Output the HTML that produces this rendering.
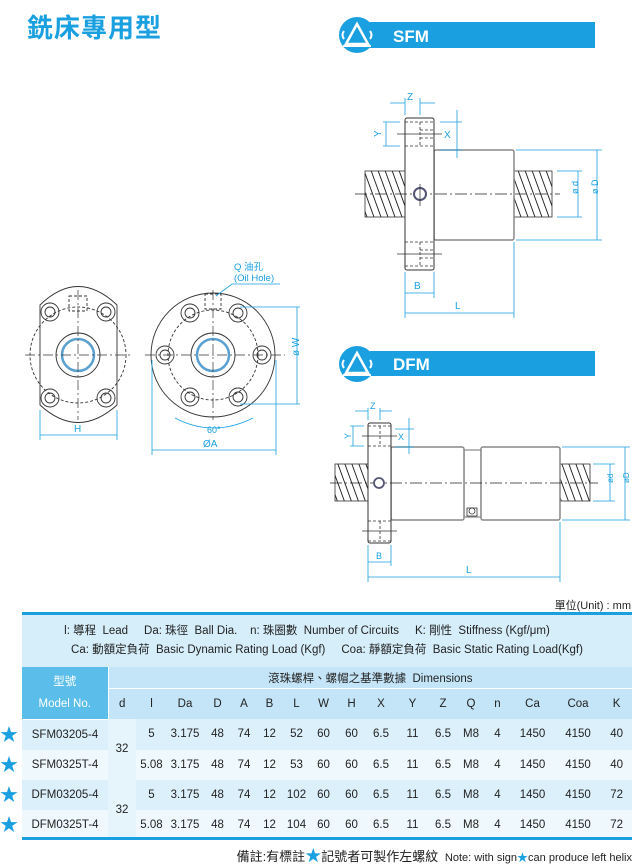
<!DOCTYPE html>
<html><head><meta charset="utf-8"><style>
body{margin:0;width:635px;height:865px;background:#fff;position:relative;overflow:hidden;font-family:"Liberation Sans","Noto Sans CJK TC",sans-serif}
.a{position:absolute}
table{border-collapse:collapse;position:absolute;left:22px;top:667px;width:610px;table-layout:fixed;font-size:11.5px;color:#222}
td{text-align:center;padding:0;height:30px}
</style></head><body>
<div class="a" style="left:27px;top:8px;font-size:26px;font-weight:bold;color:#1aa0e0;font-family:'Noto Sans CJK TC',sans-serif;letter-spacing:1px">銑床專用型</div>
<svg class="a" style="left:0;top:0" width="635" height="600" viewBox="0 0 635 600" font-family="Liberation Sans, Noto Sans CJK TC, sans-serif">
<defs>
<pattern id="th" width="7" height="50" patternUnits="userSpaceOnUse" patternTransform="skewX(20)"><rect width="7" height="50" fill="#fff"/><line x1="1" y1="0" x2="1" y2="50" stroke="#222" stroke-width="1"/></pattern>
<g id="logo"><circle r="18" fill="#1aa0e0"/><path d="M-11 9 L0 -11 L11 9 Z" fill="none" stroke="#fff" stroke-width="2.5"/><path d="M-13 -4 Q-16 0 -13 4 M13 -4 Q16 0 13 4" stroke="#fff" stroke-width="2" fill="none"/><line x1="-14" y1="11" x2="14" y2="11" stroke="#fff" stroke-width="2"/></g>
</defs>
<!-- SFM banner -->
<rect x="370" y="22" width="225" height="26" fill="#1aa0e0"/>
<use href="#logo" x="357" y="35"/>
<text x="393" y="42" fill="#fff" font-size="17" font-weight="bold">SFM</text>
<!-- DFM banner -->
<rect x="370" y="351" width="225" height="25" fill="#1aa0e0"/>
<use href="#logo" x="357" y="364"/>
<text x="393" y="370" fill="#fff" font-size="17" font-weight="bold">DFM</text>

<!-- SFM side view -->
<rect x="365" y="171" width="40" height="46" fill="url(#th)" stroke="#333" stroke-width="0.8"/>
<rect x="514" y="171" width="38" height="46" fill="url(#th)" stroke="#333" stroke-width="0.8"/>
<rect x="434" y="150" width="80" height="90" rx="2" fill="#fff" stroke="#888" stroke-width="1.5"/>
<rect x="405" y="118" width="29" height="152" rx="2" fill="#fff" stroke="#333" stroke-width="1"/>
<g stroke="#333" stroke-width="0.8" stroke-dasharray="3,2" fill="none">
<path d="M405 122 H434 M405 146 H434 M420 122 V146 M420 130 H434 M420 138 H434"/>
<path d="M405 242 H434 M405 266 H434 M420 242 V266 M420 250 H434 M420 258 H434"/>
</g>
<path d="M397 134 H442 M397 254 H442" stroke="#333" stroke-width="0.8"/>
<line x1="355" y1="194" x2="560" y2="194" stroke="#222" stroke-width="0.8" stroke-dasharray="12,3,2,3"/>
<circle cx="420" cy="194" r="6" fill="#fff" stroke="#557" stroke-width="2"/>
<line x1="420" y1="184" x2="420" y2="206" stroke="#222" stroke-width="0.7"/>
<g stroke="#1aa0e0" stroke-width="0.8" fill="#1aa0e0" font-size="10">
<path d="M405 115 V98 M420 115 V98 M390 103 H405 M420 103 H435"/>
<text x="407" y="100" stroke="none">Z</text>
<path d="M383 122 H400 M383 146 H400 M386 122 V146"/>
<text x="375" y="137" stroke="none" transform="rotate(-90 378 134)">Y</text>
<path d="M457 110 V158 M440 122 H462 M440 150 H462"/>
<text x="444" y="138" stroke="none">X</text>
<path d="M516 150 H602 M516 240 H602 M597 150 V240 M557 171 H582 M557 217 H582 M578 171 V217"/>
<text x="572" y="200" stroke="none" transform="rotate(-90 572 194)" font-size="9">ø d</text>
<text x="592" y="200" stroke="none" transform="rotate(-90 592 194)" font-size="9">ø D</text>
<path d="M405 272 V318 M434 272 V298 M514 242 V318 M405 293 H434 M405 313 H514"/>
<text x="414" y="289" stroke="none">B</text>
<text x="455" y="309" stroke="none">L</text>
</g>

<!-- Left end view -->
<g fill="none" stroke="#333" stroke-width="0.9">
<path d="M40 305 Q78 268 117 305 V405 Q78 440 40 405 Z" fill="#fff"/>
<circle cx="78" cy="355" r="48" stroke-dasharray="3,2"/>
<circle cx="78" cy="355" r="22"/>
<circle cx="78" cy="355" r="16" stroke="#5aa0d0" stroke-width="2.5"/>
<circle cx="50" cy="312" r="9"/><circle cx="50" cy="312" r="5"/>
<circle cx="106" cy="312" r="9"/><circle cx="106" cy="312" r="5"/>
<circle cx="50" cy="398" r="9"/><circle cx="50" cy="398" r="5"/>
<circle cx="106" cy="398" r="9"/><circle cx="106" cy="398" r="5"/>
<rect x="69" y="296" width="18" height="15" stroke-dasharray="3,2"/>
</g>
<path d="M25 355 H130 M78 290 V420" stroke="#333" stroke-width="0.7" stroke-dasharray="10,3,2,3"/>
<!-- Right end view -->
<g fill="none" stroke="#333" stroke-width="0.9">
<circle cx="213" cy="355" r="62" fill="#fff"/>
<circle cx="213" cy="355" r="45" stroke-dasharray="3,2"/>
<circle cx="213" cy="355" r="22"/>
<circle cx="213" cy="355" r="16" stroke="#5aa0d0" stroke-width="2.5"/>
<circle cx="165" cy="355" r="9"/><circle cx="165" cy="355" r="5"/>
<circle cx="262" cy="355" r="9"/><circle cx="262" cy="355" r="5"/>
<circle cx="190" cy="313" r="9"/><circle cx="190" cy="313" r="5"/>
<circle cx="238" cy="313" r="9"/><circle cx="238" cy="313" r="5"/>
<circle cx="190" cy="397" r="9"/><circle cx="190" cy="397" r="5"/>
<circle cx="238" cy="397" r="9"/><circle cx="238" cy="397" r="5"/>
<rect x="205" y="294" width="16" height="15" stroke-dasharray="3,2"/>
</g>
<path d="M145 355 H285 M213 290 V420" stroke="#333" stroke-width="0.7" stroke-dasharray="10,3,2,3"/>
<g stroke="#1aa0e0" stroke-width="0.8" fill="#1aa0e0" font-size="10">
<path d="M40 410 V440 M117 410 V440 M40 435 H117"/>
<text x="74" y="432" stroke="none">H</text>
<path d="M152 360 V455 M276 360 V455 M152 450 H276"/>
<text x="203" y="447" stroke="none">ØA</text>
<path d="M240 307 H300 M240 404 H300 M297 307 V404"/>
<text x="293" y="362" stroke="none" transform="rotate(-90 293 356)">ø W</text>
<path d="M175 418 Q213 438 253 418" fill="none"/>
<text x="207" y="433" stroke="none" font-size="9">60°</text>
<path d="M216 296 L232 284 H280" fill="none"/>
<text x="234" y="270" stroke="none" font-size="9.5">Q 油孔</text>
<text x="234" y="281" stroke="none" font-size="9.5">(Oil Hole)</text>
</g>

<!-- DFM side view -->
<rect x="335" y="464" width="33" height="37" fill="url(#th)" stroke="#333" stroke-width="0.8"/>
<rect x="560" y="464" width="30" height="37" fill="url(#th)" stroke="#333" stroke-width="0.8"/>
<rect x="464" y="450" width="17" height="67" fill="#fff" stroke="#888" stroke-width="1.2"/>
<rect x="391" y="447" width="73" height="73" rx="2" fill="#fff" stroke="#888" stroke-width="1.5"/>
<rect x="481" y="447" width="79" height="73" rx="2" fill="#fff" stroke="#888" stroke-width="1.5"/>
<rect x="368" y="423" width="23" height="120" rx="2" fill="#fff" stroke="#333" stroke-width="1"/>
<g stroke="#333" stroke-width="0.8" stroke-dasharray="3,2" fill="none">
<path d="M368 426 H391 M368 446 H391 M380 426 V446"/>
<path d="M368 521 H391 M368 541 H391 M380 521 V541"/>
</g>
<path d="M362 436 H397 M362 531 H397" stroke="#333" stroke-width="0.8"/>
<line x1="330" y1="483" x2="598" y2="483" stroke="#222" stroke-width="0.8" stroke-dasharray="12,3,2,3"/>
<circle cx="379" cy="483" r="5" fill="#fff" stroke="#557" stroke-width="1.8"/>
<rect x="467" y="508" width="10" height="8" fill="#fff" stroke="#333" stroke-width="0.8"/>
<circle cx="472" cy="511" r="3" fill="none" stroke="#333" stroke-width="0.8"/>
<g stroke="#1aa0e0" stroke-width="0.8" fill="#1aa0e0" font-size="9">
<path d="M368 420 V408 M380 420 V408 M355 411 H368 M380 411 H392"/>
<text x="370" y="409" stroke="none">Z</text>
<path d="M350 426 H364 M350 446 H364 M353 426 V446"/>
<text x="344" y="440" stroke="none" transform="rotate(-90 347 436)">Y</text>
<path d="M409 418 V454 M395 429 H414 M395 447 H414"/>
<text x="398" y="440" stroke="none">X</text>
<path d="M562 447 H630 M562 520 H630 M625 447 V520 M593 464 H615 M593 501 H615 M610 464 V501"/>
<text x="606" y="490" stroke="none" transform="rotate(-90 606 483)" font-size="8">ød</text>
<text x="622" y="490" stroke="none" transform="rotate(-90 622 483)" font-size="8">øD</text>
<path d="M368 545 V582 M391 545 V566 M560 522 V582 M368 562 H391 M368 577 H560"/>
<text x="376" y="559" stroke="none">B</text>
<text x="466" y="573" stroke="none" font-size="10">L</text>
</g>
</svg>

<div class="a" style="right:4px;top:597px;font-size:11px;color:#222;font-family:'Liberation Sans','Noto Sans CJK TC',sans-serif">單位(Unit) : mm</div>
<div class="a" style="left:22px;top:612px;width:610px;height:3px;background:#1aa0e0"></div>
<div class="a" style="left:22px;top:615px;width:610px;height:52px;background:#d6eefa;font-size:11.5px;color:#222;text-align:center;line-height:19px;padding-top:7px;box-sizing:border-box">
<div style="position:relative;left:-20px">l: 導程 &nbsp;Lead &nbsp;&nbsp;&nbsp;&nbsp;Da: 珠徑 &nbsp;Ball Dia. &nbsp;&nbsp;&nbsp;n: 珠圈數 &nbsp;Number of Circuits &nbsp;&nbsp;&nbsp;&nbsp;K: 剛性 &nbsp;Stiffness (Kgf/μm)</div>
<div>Ca: 動額定負荷 &nbsp;Basic Dynamic Rating Load (Kgf) &nbsp;&nbsp;&nbsp;&nbsp;Coa: 靜額定負荷 &nbsp;Basic Static Rating Load(Kgf)</div>
</div>
<table>
<colgroup><col style="width:86px"><col style="width:28px"><col style="width:31px"><col style="width:36px"><col style="width:29px"><col style="width:24px"><col style="width:27px"><col style="width:27px"><col style="width:27px"><col style="width:29px"><col style="width:30px"><col style="width:33px"><col style="width:28px"><col style="width:28px"><col style="width:25px"><col style="width:45px"><col style="width:46px"><col style="width:31px"></colgroup>
<tr style="background:#c4e5f7"><td rowspan="2" style="background:#5bbde9;color:#fff;line-height:22px;border-right:1px solid #fff;border-bottom:1px solid #fff">型號<br>Model No.</td><td colspan="17" style="height:21px;border-bottom:1px solid #fff">滾珠螺桿、螺帽之基準數據 &nbsp;Dimensions</td></tr>
<tr style="background:#c4e5f7"><td>d</td><td>l</td><td>Da</td><td>D</td><td>A</td><td>B</td><td>L</td><td>W</td><td>H</td><td>X</td><td>Y</td><td>Z</td><td>Q</td><td>n</td><td>Ca</td><td>Coa</td><td>K</td></tr>
<tr style="background:#dcf0fb"><td>SFM03205-4</td><td rowspan="2" style="background:#e6f4fc">32</td><td>5</td><td>3.175</td><td>48</td><td>74</td><td>12</td><td>52</td><td>60</td><td>60</td><td>6.5</td><td>11</td><td>6.5</td><td>M8</td><td>4</td><td>1450</td><td>4150</td><td>40</td></tr>
<tr style="background:#eef8fd"><td>SFM0325T-4</td><td>5.08</td><td>3.175</td><td>48</td><td>74</td><td>12</td><td>53</td><td>60</td><td>60</td><td>6.5</td><td>11</td><td>6.5</td><td>M8</td><td>4</td><td>1450</td><td>4150</td><td>40</td></tr>
<tr style="background:#dcf0fb"><td>DFM03205-4</td><td rowspan="2" style="background:#e6f4fc">32</td><td>5</td><td>3.175</td><td>48</td><td>74</td><td>12</td><td>102</td><td>60</td><td>60</td><td>6.5</td><td>11</td><td>6.5</td><td>M8</td><td>4</td><td>1450</td><td>4150</td><td>72</td></tr>
<tr style="background:#eef8fd"><td>DFM0325T-4</td><td>5.08</td><td>3.175</td><td>48</td><td>74</td><td>12</td><td>104</td><td>60</td><td>60</td><td>6.5</td><td>11</td><td>6.5</td><td>M8</td><td>4</td><td>1450</td><td>4150</td><td>72</td></tr>
</table>
<div class="a" style="left:22px;top:837px;width:610px;height:3px;background:#1aa0e0"></div>
<div class="a" style="left:0;top:720px;color:#1aa0e0;font-size:18px;line-height:30px">★<br>★<br>★<br>★</div>
<div class="a" style="right:3px;top:842px;font-size:12px;color:#222;white-space:nowrap"><span style="font-size:13px">備註:有標註<span style="color:#1aa0e0;font-size:16px">★</span>記號者可製作左螺紋</span> &nbsp;<span style="font-size:11px">Note: with sign<span style="color:#1aa0e0">★</span>can produce left helix</span></div>
</body></html>
